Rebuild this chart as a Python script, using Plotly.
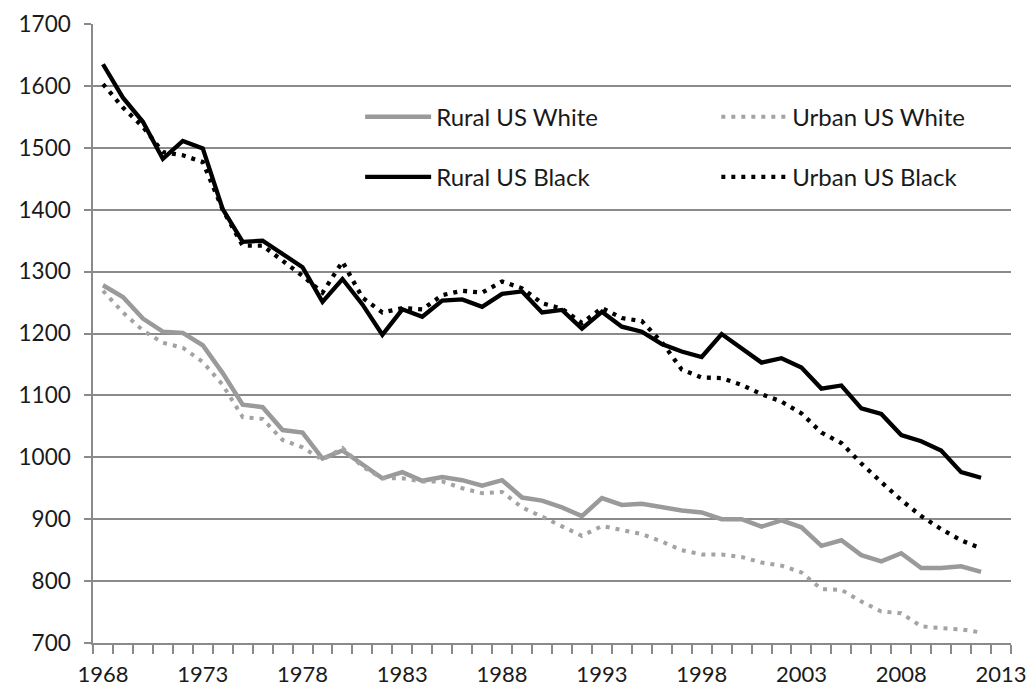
import plotly.graph_objects as go

# 年份 (1968-2012)
years = list(range(1968, 2013))

rural_white = [1278, 1259, 1224, 1203, 1201, 1181, 1136, 1085, 1081, 1044,
               1040, 998, 1011, 988, 966, 976, 962, 968, 963, 954,
               963, 935, 930, 919, 905, 934, 923, 925, 919, 914,
               911, 900, 900, 888, 898, 887, 857, 866, 842, 832,
               845, 821, 821, 824, 815]

urban_white = [1269, 1234, 1205, 1185, 1177, 1154, 1117, 1065, 1062, 1028,
               1016, 996, 1015, 985, 966, 966, 961, 961, 950, 942,
               944, 919, 904, 888, 873, 889, 882, 876, 864, 850,
               843, 843, 839, 830, 825, 814, 787, 786, 767, 751,
               748, 727, 724, 722, 717]

rural_black = [1635, 1581, 1542, 1482, 1511, 1499, 1401, 1348, 1350, 1328,
               1307, 1251, 1288, 1247, 1198, 1239, 1227, 1253, 1255, 1243,
               1264, 1268, 1234, 1238, 1208, 1235, 1211, 1203, 1183, 1171,
               1162, 1199, 1176, 1153, 1160, 1145, 1111, 1116, 1079, 1070,
               1036, 1026, 1011, 976, 967]

urban_black = [1603, 1565, 1534, 1493, 1488, 1477, 1400, 1342, 1342, 1318,
               1293, 1266, 1316, 1258, 1234, 1241, 1239, 1262, 1269, 1266,
               1284, 1273, 1249, 1240, 1217, 1241, 1225, 1220, 1186, 1142,
               1129, 1128, 1117, 1102, 1090, 1071, 1040, 1023, 990, 960,
               931, 905, 884, 866, 853]

x_ticks = list(range(1968, 2014, 5))
y_ticks = list(range(700, 1701, 100))

FONT = 'Lato, "Open Sans", sans-serif'
GRID = '#8a8a8a'

fig = go.Figure()

fig.add_trace(go.Scatter(x=years, y=rural_white, name='Rural US White', mode='lines',
                         line=dict(color='#9a9a9a', width=4.5),
                         legend='legend', legendgroup='rw'))
fig.add_trace(go.Scatter(x=years, y=urban_white, name='Urban US White', mode='lines',
                         line=dict(color='#a3a3a3', width=4, dash='4px,6px'),
                         legend='legend2', legendgroup='uw'))
fig.add_trace(go.Scatter(x=years, y=rural_black, name='Rural US Black', mode='lines',
                         line=dict(color='#000000', width=4.3),
                         legend='legend', legendgroup='rb'))
fig.add_trace(go.Scatter(x=years, y=urban_black, name='Urban US Black', mode='lines',
                         line=dict(color='#000000', width=4.3, dash='4px,6px'),
                         legend='legend2', legendgroup='ub'))

legend_style = dict(font=dict(family=FONT, size=24, color='#1a1a1a'),
                    bgcolor='rgba(255,255,255,0)', tracegroupgap=26,
                    itemwidth=66, yanchor='top', xanchor='left')

fig.update_layout(
    width=1027, height=687,
    margin=dict(l=93, r=16, t=24, b=44),
    paper_bgcolor='white', plot_bgcolor='white',
    font=dict(family=FONT, size=22.5, color='#1a1a1a'),
    legend=dict(x=0.291, y=0.886, **legend_style),
    legend2=dict(x=0.679, y=0.886, **legend_style),
    showlegend=True,
)

fig.update_xaxes(
    range=[1967.5, 2013.5], tickmode='array', tickvals=x_ticks,
    ticks='', showgrid=False, showline=True, linecolor=GRID, linewidth=1.5,
    zeroline=False, ticklabelstandoff=11, automargin=False,
    ticklabeloverflow='allow', tickfont=dict(size=22),
    minor=dict(tickmode='linear', tick0=1967.5, dtick=1, ticks='outside',
               ticklen=9, tickcolor=GRID, tickwidth=1.5, showgrid=False),
)
fig.update_yaxes(
    range=[700, 1700], tickmode='array', tickvals=y_ticks,
    ticks='outside', ticklen=7, tickcolor=GRID, tickwidth=1.5,
    showgrid=True, gridcolor=GRID, gridwidth=1.5,
    showline=True, linecolor=GRID, linewidth=1.5, zeroline=False,
    ticklabelstandoff=9, automargin=False,
)

# 去掉页面默认边距, 图正好铺满窗口; 隐藏工具栏
fig.write_html("out.html", config={'displayModeBar': False},
               post_script="document.body.style.margin='0';document.body.style.overflow='hidden';")
